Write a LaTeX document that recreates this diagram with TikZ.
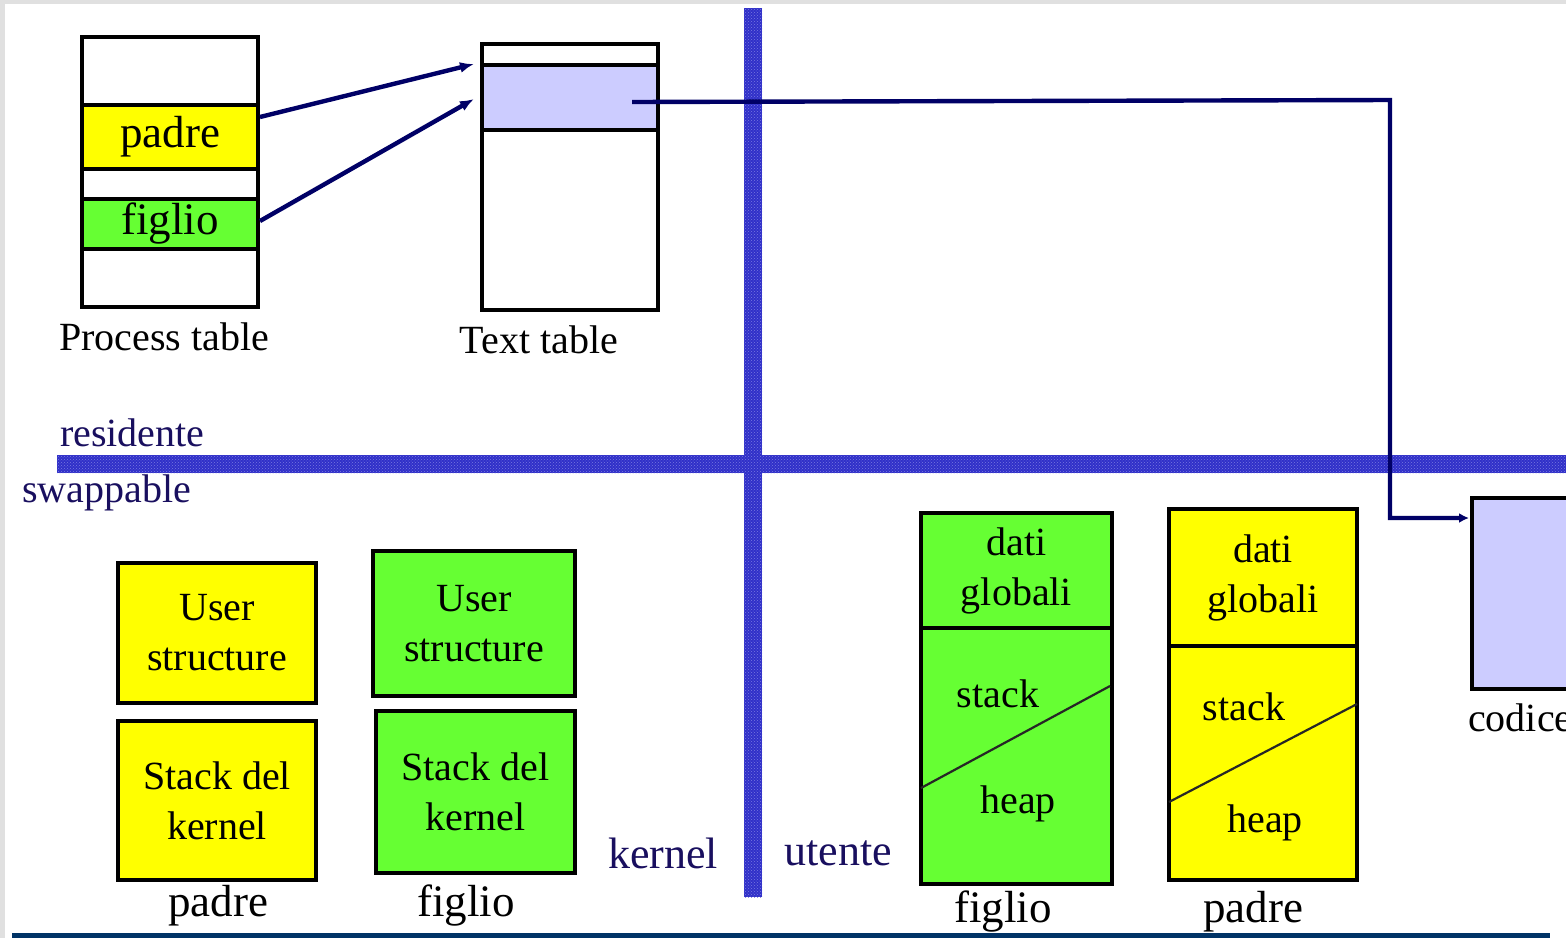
\documentclass[tikz,border=0pt]{standalone}
\usepackage{fontspec}
\setmainfont{Liberation Serif}
\usetikzlibrary{arrows.meta,calc,patterns}
\definecolor{ylw}{RGB}{255,255,0}
\definecolor{grn}{RGB}{102,255,51}
\definecolor{lav}{RGB}{204,204,255}
\definecolor{navy}{RGB}{0,0,102}
\definecolor{band}{RGB}{48,48,200}
\definecolor{bandlight}{RGB}{120,120,225}
\definecolor{txtnavy}{RGB}{25,15,95}
\definecolor{botline}{RGB}{0,51,102}
\begin{document}
\begin{tikzpicture}[x=1pt,y=-1pt,
  box/.style={draw=black,line width=4pt,inner sep=0pt,anchor=north west,align=center,
    font=\fontsize{40}{50}\selectfont},
  lbl/.style={inner sep=0pt,font=\fontsize{40}{48}\selectfont},
  biglbl/.style={inner sep=0pt,font=\fontsize{45}{50}\selectfont},
  navylbl/.style={lbl,text=txtnavy},
  conn/.style={draw=navy,line width=4.4pt,-{Latex[length=14pt,width=11pt]}},
  bandfill/.style={fill=band},
  diag/.style={draw=black!85,line width=2.2pt}
]
\clip (0,0) rectangle (1566,938);
\fill[black!12] (0,0) rectangle (1566,938);
\fill[white] (5,4) rectangle (1566,938);
\fill[botline] (12,933) rectangle (1550,938);

% separators
\fill[bandfill] (57,455) rectangle (1566,473);
\fill[pattern=crosshatch dots,pattern color=bandlight] (57,455) rectangle (1566,473);
\fill[bandfill] (744,8) rectangle (762,897);
\fill[pattern=crosshatch dots,pattern color=bandlight] (744,8) rectangle (762,897);

% Process table
\node[box,minimum width=176pt,minimum height=68pt] (pt0) at (80,35) {};
\node[box,fill=ylw,minimum width=176pt,minimum height=64pt,font=\fontsize{45}{50}\selectfont] (pad) at (80,103) {padre};
\node[box,minimum width=176pt,minimum height=30pt] (pt2) at (80,167) {};
\node[box,fill=grn,minimum width=176pt,minimum height=50pt,font=\fontsize{45}{50}\selectfont] (fig) at (80,197) {figlio};
\node[box,minimum width=176pt,minimum height=58pt] (pt4) at (80,247) {};
\node[lbl,anchor=base] (ptl) at (164,350) {Process table};

% Text table
\node[box,minimum width=176pt,minimum height=21pt] (tt0) at (480,42) {};
\node[box,fill=lav,minimum width=176pt,minimum height=65pt] (tt1) at (480,63) {};
\node[box,minimum width=176pt,minimum height=180pt] (tt2) at (480,128) {};
\node[lbl,anchor=base] (ttl) at (539,353) {Text table};

% arrows
\draw[conn] ($(pad.north east)+(0,14)$) -- ($(tt1.north west)+(-6,1)$);
\draw[conn] ($(fig.east)+(0,-3)$) -- ($(tt1.west)+(-6,1.5)$);

% codice
\node[box,fill=lav,minimum width=200pt,minimum height=191pt] (cod) at (1470,496) {};
\node[lbl,anchor=base west] (codl) at (1468,731) {codice};
\coordinate (cs) at ($(tt1.east)+(-28,4.5)$);
\coordinate (bend) at (1390,100);
\draw[conn,-{Latex[length=10pt,width=10pt]}] (cs) -- (bend) |- ($(cod.north west)+(-1,22)$);

% labels
\node[navylbl,anchor=base west] (res) at (60,446) {residente};
\node[navylbl,anchor=base west] (swp) at (22,502) {swappable};
\node[navylbl,anchor=base,font=\fontsize{44}{48}\selectfont] (ker) at (663,868) {kernel};
\node[navylbl,anchor=base,font=\fontsize{44}{48}\selectfont] (ute) at (838,865) {utente};

% bottom-left padre
\node[box,fill=ylw,minimum width=198pt,minimum height=140pt] (pus) at (116,561) {User\\structure};
\node[box,fill=ylw,minimum width=198pt,minimum height=159pt] (psk) at (116,719) {Stack del\\kernel};
\node[biglbl,anchor=base] (pl1) at (218,916) {padre};

% bottom-left figlio
\node[box,fill=grn,minimum width=202pt,minimum height=145pt] (fus) at (371,549) {User\\structure};
\node[box,fill=grn,minimum width=199pt,minimum height=162pt] (fsk) at (374,709) {Stack del\\kernel};
\node[biglbl,anchor=base] (fl1) at (466,916) {figlio};

% right figlio memory
\node[box,fill=grn,minimum width=191pt,minimum height=115pt] (fdg) at (919,511) {dati\\globali};
\node[box,fill=grn,minimum width=191pt,minimum height=256pt] (fsh) at (919,626) {};
\draw[diag] (921,788) -- (1110,686);
\node[lbl,anchor=base] (fst) at (998,707) {stack};
\node[lbl,anchor=base] (fhp) at (1018,813) {heap};
\node[biglbl,anchor=base] (fl2) at (1003,922) {figlio};

% right padre memory
\node[box,fill=ylw,minimum width=188pt,minimum height=137pt] (pdg) at (1167,507) {dati\\globali};
\node[box,fill=ylw,minimum width=188pt,minimum height=234pt] (psh) at (1167,644) {};
\draw[diag] (1169,802) -- (1357,704);
\node[lbl,anchor=base] (pst) at (1244,720) {stack};
\node[lbl,anchor=base] (php) at (1265,832) {heap};
\node[biglbl,anchor=base] (pl2) at (1253,922) {padre};
\end{tikzpicture}
\end{document}
